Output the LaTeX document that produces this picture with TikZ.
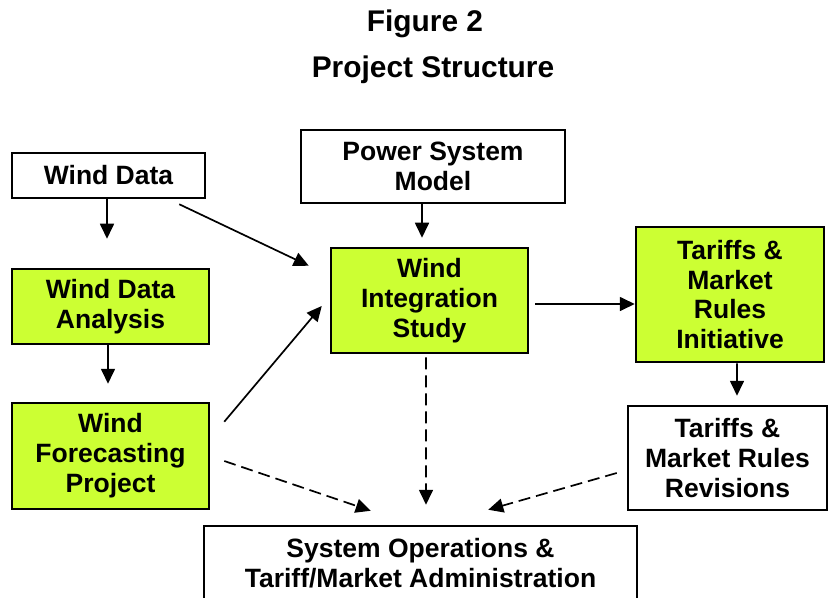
\documentclass[tikz,border=0pt]{standalone}
\usepackage{fontspec}
\setmainfont{Liberation Sans}
\usetikzlibrary{arrows.meta,calc}
\definecolor{limegreen}{RGB}{204,255,51}
\begin{document}
\begin{tikzpicture}[x=1bp,y=-1bp,
  box/.style={draw=black,line width=2.5bp,align=center,inner sep=0pt,
    font=\fontsize{26.6}{30}\selectfont\bfseries},
  greenbox/.style={box,fill=limegreen},
  arr/.style={line width=1.7bp,-{Triangle[length=15bp,width=14bp]}},
  dasharr/.style={arr,dash pattern=on 12bp off 6bp},
  titletext/.style={font=\fontsize{30}{34}\selectfont\bfseries}]
\useasboundingbox[fill=white] (0,0) rectangle (830,598);

% title
\node[titletext,anchor=base] (fig) at (425,32) {Figure 2};
\node[titletext,anchor=base] (ttl) at (433,78) {Project Structure};

% boxes
\node[box,minimum width=193bp,minimum height=45bp] (winddata) at (108.5,175.5) {Wind Data};
\node[box,minimum width=264bp,minimum height=73bp] (psm) at (433,166.5) {Power System\\Model};
\node[greenbox,minimum width=197bp,minimum height=75bp] (wda) at (110.5,306.5) {Wind Data\\Analysis};
\node[greenbox,minimum width=197bp,minimum height=105bp] (wis) at (429.5,300.5) {Wind\\Integration\\Study};
\node[greenbox,minimum width=188bp,minimum height=135bp] (tmri) at (730,294.5) {Tariffs \&\\Market\\Rules\\Initiative};
\node[greenbox,minimum width=197bp,minimum height=106bp] (wfp) at (110.5,456) {Wind\\Forecasting\\Project};
\node[box,minimum width=199bp,minimum height=104bp] (tmrr) at (727.5,458) {Tariffs \&\\Market Rules\\Revisions};
\node[box,minimum width=433bp,minimum height=74bp] (sysops) at (420.5,563) {System Operations \&\\Tariff/Market Administration};

% solid connectors
\draw[arr] ($(winddata.south)+(-1.5,0)$) -- ($(wda.north)+(-3.5,-29)$);
\draw[arr] ($(winddata.south east)+(-27,5)$) -- ($(wis.north west)+(-21,19)$);
\draw[arr] ($(psm.south)+(-11,0)$) -- ($(wis.north)+(-7.5,-9)$);
\draw[arr] ($(wda.south)+(-2.5,0)$) -- ($(wfp.north)+(-2.5,-18)$);
\draw[arr] ($(wfp.north east)+(14,20)$) -- ($(wis.west)+(-8,5.5)$);
\draw[arr] ($(wis.east)+(6,3.5)$) -- ($(tmri.west)+(0,9.5)$);
\draw[arr] ($(tmri.south)+(7,0)$) -- ($(tmrr.north)+(9.5,-9)$);

% dashed connectors into the administration box
\draw[dasharr] ($(wis.south)+(-3.5,3)$) -- ($(sysops.north)+(5.5,-20)$);
\draw[dasharr] ($(wfp.east)+(14,5)$) -- ($(sysops.north west)+(168,-14)$);
\draw[dasharr] ($(tmrr.west)+(-10,15)$) -- ($(sysops.north east)+(-150,-15)$);
\end{tikzpicture}
\end{document}
